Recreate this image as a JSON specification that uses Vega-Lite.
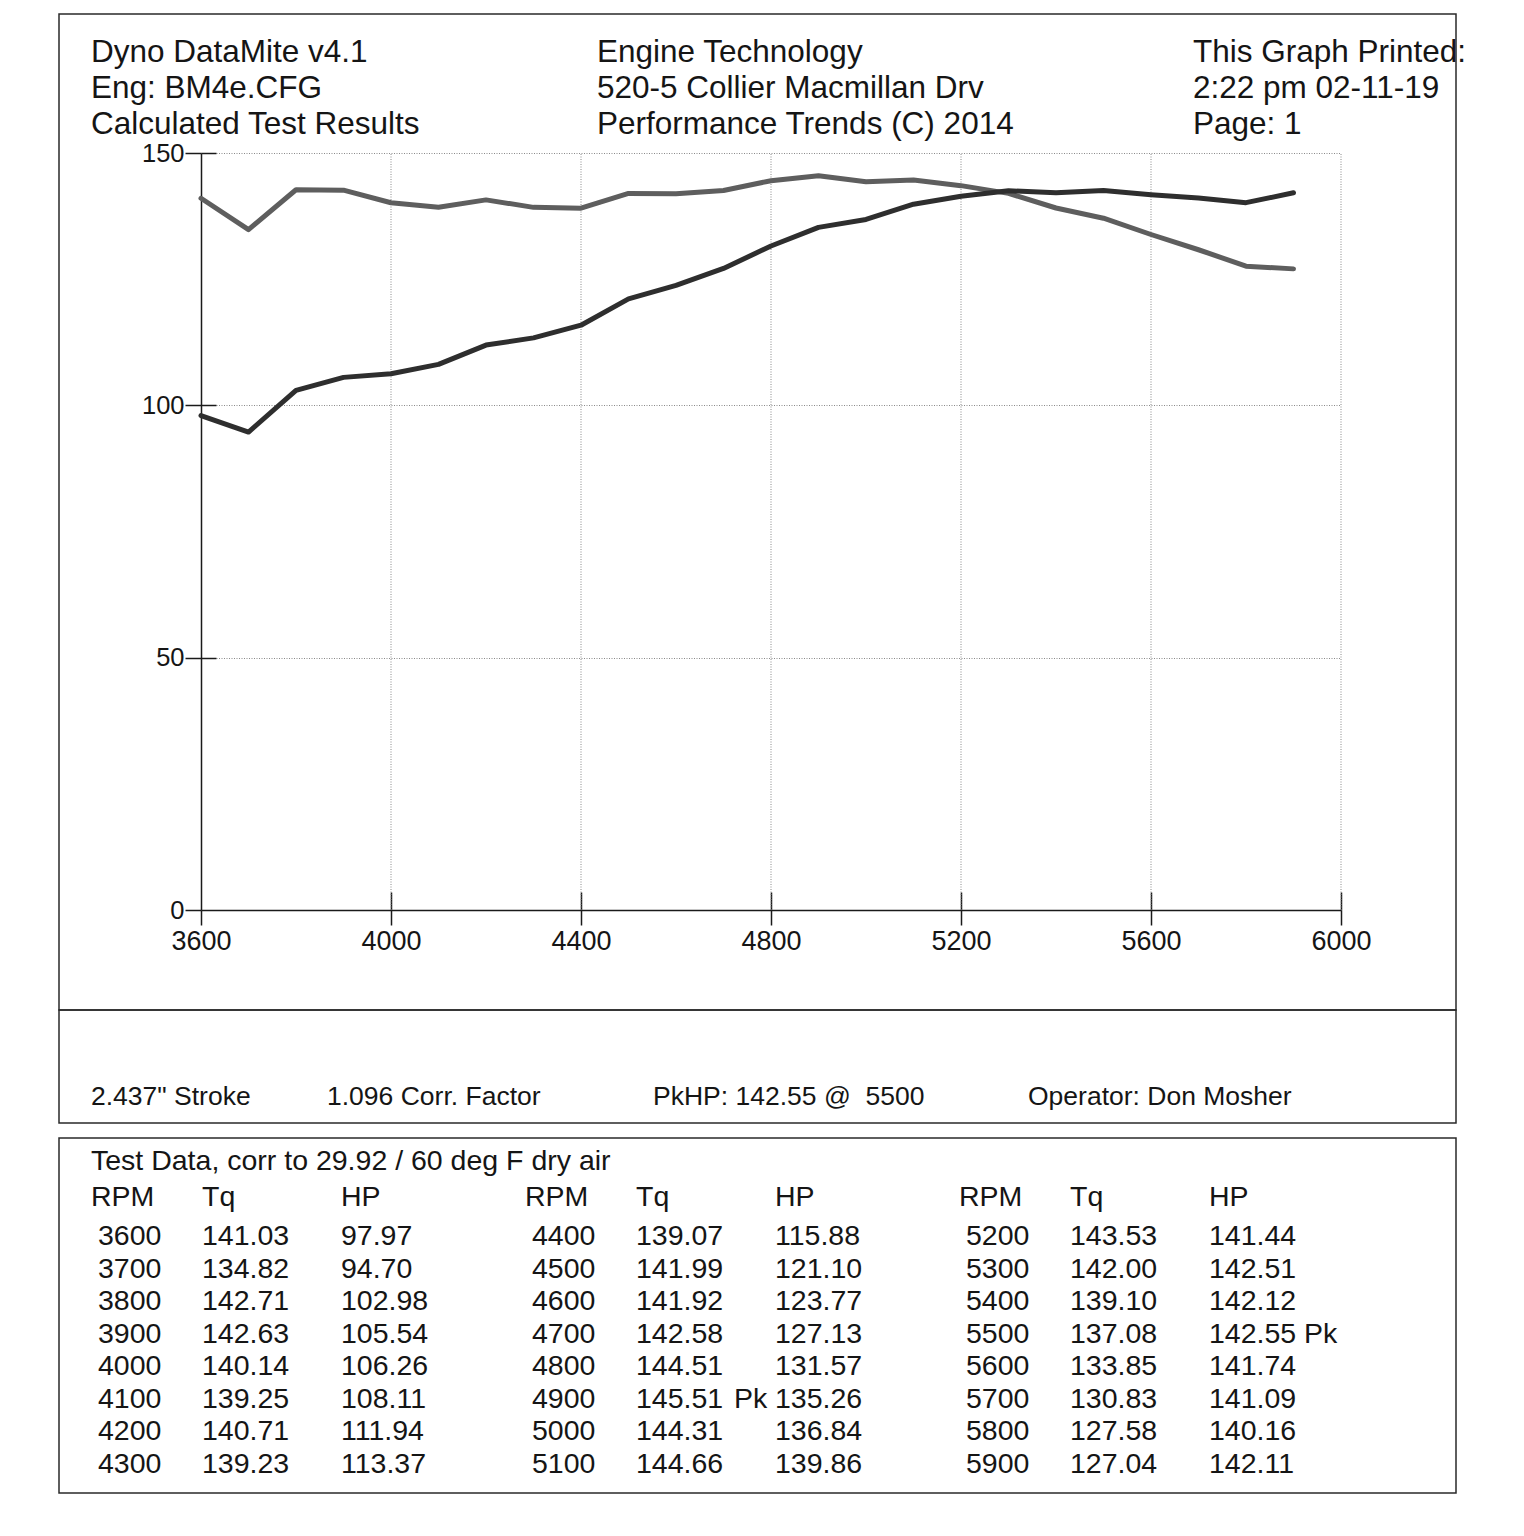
{
  "$schema": "https://vega.github.io/schema/vega-lite/v6.json",
  "padding": {"left": 58, "top": 13, "right": 0, "bottom": 0},
  "background": "white",
  "spacing": 0,
  "bounds": "flush",
  "config": {
    "view": {"stroke": "#2a2a2a", "strokeWidth": 1.5},
    "font": "Liberation Sans",
    "text": {"font": "Liberation Sans", "color": "#151515"}
  },
  "datasets": {
    "runs": [
      {"rpm": 3600, "tq": 141.03, "hp": 97.97, "blk": 0, "row": 0, "pk": ""},
      {"rpm": 3700, "tq": 134.82, "hp": 94.70, "blk": 0, "row": 1, "pk": ""},
      {"rpm": 3800, "tq": 142.71, "hp": 102.98, "blk": 0, "row": 2, "pk": ""},
      {"rpm": 3900, "tq": 142.63, "hp": 105.54, "blk": 0, "row": 3, "pk": ""},
      {"rpm": 4000, "tq": 140.14, "hp": 106.26, "blk": 0, "row": 4, "pk": ""},
      {"rpm": 4100, "tq": 139.25, "hp": 108.11, "blk": 0, "row": 5, "pk": ""},
      {"rpm": 4200, "tq": 140.71, "hp": 111.94, "blk": 0, "row": 6, "pk": ""},
      {"rpm": 4300, "tq": 139.23, "hp": 113.37, "blk": 0, "row": 7, "pk": ""},
      {"rpm": 4400, "tq": 139.07, "hp": 115.88, "blk": 1, "row": 0, "pk": ""},
      {"rpm": 4500, "tq": 141.99, "hp": 121.10, "blk": 1, "row": 1, "pk": ""},
      {"rpm": 4600, "tq": 141.92, "hp": 123.77, "blk": 1, "row": 2, "pk": ""},
      {"rpm": 4700, "tq": 142.58, "hp": 127.13, "blk": 1, "row": 3, "pk": ""},
      {"rpm": 4800, "tq": 144.51, "hp": 131.57, "blk": 1, "row": 4, "pk": ""},
      {"rpm": 4900, "tq": 145.51, "hp": 135.26, "blk": 1, "row": 5, "pk": "tq"},
      {"rpm": 5000, "tq": 144.31, "hp": 136.84, "blk": 1, "row": 6, "pk": ""},
      {"rpm": 5100, "tq": 144.66, "hp": 139.86, "blk": 1, "row": 7, "pk": ""},
      {"rpm": 5200, "tq": 143.53, "hp": 141.44, "blk": 2, "row": 0, "pk": ""},
      {"rpm": 5300, "tq": 142.00, "hp": 142.51, "blk": 2, "row": 1, "pk": ""},
      {"rpm": 5400, "tq": 139.10, "hp": 142.12, "blk": 2, "row": 2, "pk": ""},
      {"rpm": 5500, "tq": 137.08, "hp": 142.55, "blk": 2, "row": 3, "pk": "hp"},
      {"rpm": 5600, "tq": 133.85, "hp": 141.74, "blk": 2, "row": 4, "pk": ""},
      {"rpm": 5700, "tq": 130.83, "hp": 141.09, "blk": 2, "row": 5, "pk": ""},
      {"rpm": 5800, "tq": 127.58, "hp": 140.16, "blk": 2, "row": 6, "pk": ""},
      {"rpm": 5900, "tq": 127.04, "hp": 142.11, "blk": 2, "row": 7, "pk": ""}
    ],
    "xgrid": [{"rpm": 4000}, {"rpm": 4400}, {"rpm": 4800}, {"rpm": 5200}, {"rpm": 5600}, {"rpm": 6000}],
    "header": [
      {"col": 0, "line": 0, "text": "Dyno DataMite v4.1"},
      {"col": 0, "line": 1, "text": "Eng: BM4e.CFG"},
      {"col": 0, "line": 2, "text": "Calculated Test Results"},
      {"col": 1, "line": 0, "text": "Engine Technology"},
      {"col": 1, "line": 1, "text": "520-5 Collier Macmillan Drv"},
      {"col": 1, "line": 2, "text": "Performance Trends (C) 2014"},
      {"col": 2, "line": 0, "text": "This Graph Printed:"},
      {"col": 2, "line": 1, "text": "2:22 pm 02-11-19"},
      {"col": 2, "line": 2, "text": "Page: 1"}
    ],
    "info": [
      {"slot": 0, "text": "2.437\" Stroke"},
      {"slot": 1, "text": "1.096 Corr. Factor"},
      {"slot": 2, "text": "PkHP: 142.55 @\u00a0 5500"},
      {"slot": 3, "text": "Operator: Don Mosher"}
    ],
    "blocks": [{"blk": 0}, {"blk": 1}, {"blk": 2}]
  },
  "vconcat": [
    {
      "width": 1397,
      "height": 996,
      "layer": [
        {
          "data": {"name": "xgrid"},
          "mark": {"type": "rule", "color": "#8a8a8a", "strokeWidth": 1, "strokeDash": [1, 1.5]},
          "encoding": {
            "x": {"field": "rpm", "type": "quantitative", "scale": {"domain": [3600, 6000], "range": [142, 1282], "nice": false, "zero": false}, "axis": null},
            "y": {"datum": 0, "type": "quantitative", "scale": {"domain": [0, 150], "range": [896, 139], "nice": false}, "axis": null},
            "y2": {"datum": 150}
          }
        },
        {
          "data": {"name": "runs"},
          "mark": {"type": "line", "color": "#5e5e5e", "strokeWidth": 5, "strokeJoin": "round", "strokeCap": "round"},
          "encoding": {
            "x": {
              "field": "rpm", "type": "quantitative",
              "scale": {"domain": [3600, 6000], "range": [142, 1282], "nice": false, "zero": false},
              "axis": {
                "orient": "bottom", "offset": -100, "title": null,
                "values": [3600, 4000, 4400, 4800, 5200, 5600, 6000], "format": "d",
                "grid": false,
                "domainColor": "#1a1a1a", "domainWidth": 1.5,
                "tickColor": "#1a1a1a", "tickWidth": 1.5, "tickSize": 15,
                "labelFont": "Liberation Sans", "labelFontSize": 27, "labelColor": "#151515",
                "labelPadding": 3, "labelFlush": false, "labelOverlap": false
              }
            },
            "y": {
              "field": "tq", "type": "quantitative",
              "scale": {"domain": [0, 150], "range": [896, 139], "nice": false},
              "axis": {
                "orient": "left", "offset": -142, "title": null,
                "values": [0, 50, 100, 150],
                "grid": true, "gridColor": "#8a8a8a", "gridDash": [1, 1.5], "gridWidth": 1,
                "domainColor": "#1a1a1a", "domainWidth": 1.5,
                "tickColor": "#1a1a1a", "tickWidth": 1.5, "tickSize": 16,
                "labelFont": "Liberation Sans", "labelFontSize": 25.5, "labelColor": "#151515",
                "labelPadding": 1, "labelBaseline": "middle", "labelOverlap": false
              }
            }
          }
        },
        {
          "data": {"name": "runs"},
          "mark": {"type": "line", "color": "#2e2e2e", "strokeWidth": 5, "strokeJoin": "round", "strokeCap": "round"},
          "encoding": {
            "x": {
              "field": "rpm", "type": "quantitative",
              "scale": {"domain": [3600, 6000], "range": [142, 1282], "nice": false, "zero": false},
              "axis": {
                "orient": "bottom", "offset": -100, "title": null,
                "values": [4000, 4400, 4800, 5200, 5600, 6000],
                "grid": false, "domain": false, "labels": false,
                "tickColor": "#1a1a1a", "tickWidth": 1.5, "tickSize": -18
              }
            },
            "y": {
              "field": "hp", "type": "quantitative",
              "scale": {"domain": [0, 150], "range": [896, 139], "nice": false},
              "axis": {
                "orient": "left", "offset": -142, "title": null,
                "values": [50, 100, 150],
                "grid": false, "domain": false, "labels": false,
                "tickColor": "#1a1a1a", "tickWidth": 1.5, "tickSize": -15
              }
            }
          }
        },
        {
          "data": {"name": "header"},
          "mark": {"type": "text", "align": "left", "baseline": "middle", "fontSize": 31.5},
          "encoding": {
            "x": {"field": "col", "type": "quantitative", "scale": {"domain": [0, 1, 2], "range": [32, 538, 1134]}, "axis": null},
            "y": {"field": "line", "type": "quantitative", "scale": {"domain": [0, 2], "range": [39, 111]}, "axis": null},
            "text": {"field": "text"}
          }
        }
      ],
      "resolve": {
        "scale": {"x": "independent", "y": "independent"},
        "axis": {"x": "independent", "y": "independent"}
      }
    },
    {
      "width": 1397,
      "height": 113,
      "data": {"name": "info"},
      "mark": {"type": "text", "align": "left", "baseline": "middle", "fontSize": 26.5},
      "encoding": {
        "x": {"field": "slot", "type": "quantitative", "scale": {"domain": [0, 1, 2, 3], "range": [32, 268, 594, 969]}, "axis": null},
        "y": {"datum": 0, "type": "quantitative", "scale": {"domain": [0, 1], "range": [87, 113]}, "axis": null},
        "text": {"field": "text"}
      }
    },
    {
      "width": 1397,
      "height": 15,
      "data": {"values": [{}]},
      "mark": {"type": "text"},
      "encoding": {"text": {"value": ""}}
    },
    {
      "width": 1397,
      "height": 355,
      "layer": [
        {
          "data": {"values": [{"t": "Test Data, corr to 29.92 / 60 deg F dry air"}]},
          "mark": {"type": "text", "align": "left", "baseline": "middle", "fontSize": 28.5},
          "encoding": {
            "x": {"datum": 0, "type": "quantitative", "scale": {"domain": [0, 2], "range": [32, 900]}, "axis": null},
            "y": {"datum": -2, "type": "quantitative", "scale": {"domain": [-2, -1, 0, 7], "range": [23, 59, 98, 326]}, "axis": null},
            "text": {"field": "t"}
          }
        },
        {
          "data": {"name": "blocks"},
          "mark": {"type": "text", "align": "left", "baseline": "middle", "fontSize": 28.5},
          "encoding": {
            "x": {"field": "blk", "type": "quantitative", "scale": {"domain": [0, 2], "range": [32, 900]}, "axis": null},
            "y": {"datum": -1, "type": "quantitative", "scale": {"domain": [-2, -1, 0, 7], "range": [23, 59, 98, 326]}, "axis": null},
            "text": {"value": "RPM"}
          }
        },
        {
          "data": {"name": "blocks"},
          "mark": {"type": "text", "align": "left", "baseline": "middle", "fontSize": 28.5, "dx": 111},
          "encoding": {
            "x": {"field": "blk", "type": "quantitative", "scale": {"domain": [0, 2], "range": [32, 900]}, "axis": null},
            "y": {"datum": -1, "type": "quantitative", "scale": {"domain": [-2, -1, 0, 7], "range": [23, 59, 98, 326]}, "axis": null},
            "text": {"value": "Tq"}
          }
        },
        {
          "data": {"name": "blocks"},
          "mark": {"type": "text", "align": "left", "baseline": "middle", "fontSize": 28.5, "dx": 250},
          "encoding": {
            "x": {"field": "blk", "type": "quantitative", "scale": {"domain": [0, 2], "range": [32, 900]}, "axis": null},
            "y": {"datum": -1, "type": "quantitative", "scale": {"domain": [-2, -1, 0, 7], "range": [23, 59, 98, 326]}, "axis": null},
            "text": {"value": "HP"}
          }
        },
        {
          "data": {"name": "runs"},
          "mark": {"type": "text", "align": "left", "baseline": "middle", "fontSize": 28.5, "dx": 7},
          "encoding": {
            "x": {"field": "blk", "type": "quantitative", "scale": {"domain": [0, 2], "range": [32, 900]}, "axis": null},
            "y": {"field": "row", "type": "quantitative", "scale": {"domain": [-2, -1, 0, 7], "range": [23, 59, 98, 326]}, "axis": null},
            "text": {"field": "rpm", "type": "quantitative", "format": "d"}
          }
        },
        {
          "data": {"name": "runs"},
          "mark": {"type": "text", "align": "left", "baseline": "middle", "fontSize": 28.5, "dx": 111},
          "encoding": {
            "x": {"field": "blk", "type": "quantitative", "scale": {"domain": [0, 2], "range": [32, 900]}, "axis": null},
            "y": {"field": "row", "type": "quantitative", "scale": {"domain": [-2, -1, 0, 7], "range": [23, 59, 98, 326]}, "axis": null},
            "text": {"field": "tq", "type": "quantitative", "format": ".2f"}
          }
        },
        {
          "data": {"name": "runs"},
          "mark": {"type": "text", "align": "left", "baseline": "middle", "fontSize": 28.5, "dx": 250},
          "encoding": {
            "x": {"field": "blk", "type": "quantitative", "scale": {"domain": [0, 2], "range": [32, 900]}, "axis": null},
            "y": {"field": "row", "type": "quantitative", "scale": {"domain": [-2, -1, 0, 7], "range": [23, 59, 98, 326]}, "axis": null},
            "text": {"field": "hp", "type": "quantitative", "format": ".2f"}
          }
        },
        {
          "data": {"name": "runs"},
          "transform": [{"filter": "datum.pk == 'tq'"}],
          "mark": {"type": "text", "align": "left", "baseline": "middle", "fontSize": 28.5, "dx": 209},
          "encoding": {
            "x": {"field": "blk", "type": "quantitative", "scale": {"domain": [0, 2], "range": [32, 900]}, "axis": null},
            "y": {"field": "row", "type": "quantitative", "scale": {"domain": [-2, -1, 0, 7], "range": [23, 59, 98, 326]}, "axis": null},
            "text": {"value": "Pk"}
          }
        },
        {
          "data": {"name": "runs"},
          "transform": [{"filter": "datum.pk == 'hp'"}],
          "mark": {"type": "text", "align": "left", "baseline": "middle", "fontSize": 28.5, "dx": 345},
          "encoding": {
            "x": {"field": "blk", "type": "quantitative", "scale": {"domain": [0, 2], "range": [32, 900]}, "axis": null},
            "y": {"field": "row", "type": "quantitative", "scale": {"domain": [-2, -1, 0, 7], "range": [23, 59, 98, 326]}, "axis": null},
            "text": {"value": "Pk"}
          }
        }
      ]
    }
  ]
}
